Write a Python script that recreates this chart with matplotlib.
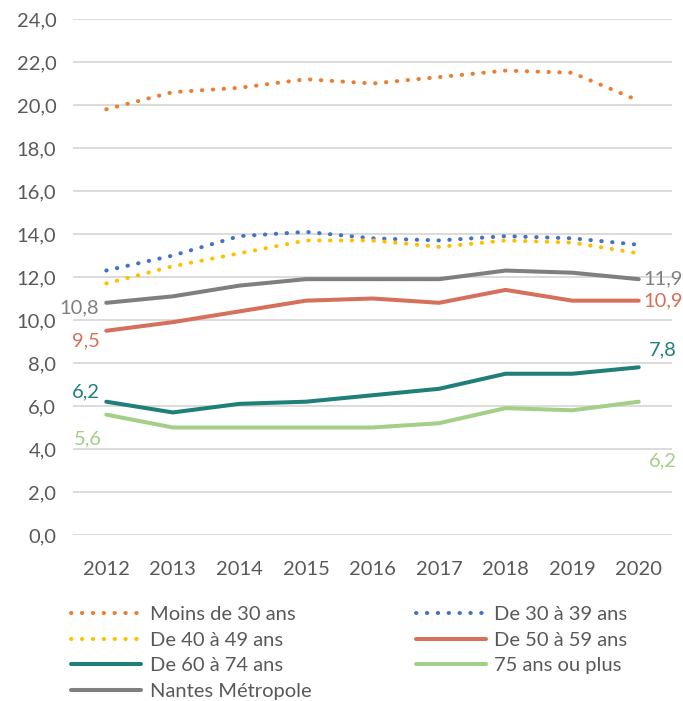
import matplotlib
matplotlib.use("Agg")
import matplotlib.pyplot as plt

years = ["2012", "2013", "2014", "2015", "2016", "2017", "2018", "2019", "2020"]
moins30 = [19.8, 20.6, 20.8, 21.2, 21.0, 21.3, 21.6, 21.5, 20.2]
de30_39 = [12.3, 13.0, 13.9, 14.1, 13.8, 13.7, 13.9, 13.8, 13.5]
de40_49 = [11.7, 12.5, 13.1, 13.7, 13.7, 13.4, 13.7, 13.6, 13.1]
de50_59 = [9.5, 9.9, 10.4, 10.9, 11.0, 10.8, 11.4, 10.9, 10.9]
de60_74 = [6.2, 5.7, 6.1, 6.2, 6.5, 6.8, 7.5, 7.5, 7.8]
plus75 = [5.6, 5.0, 5.0, 5.0, 5.0, 5.2, 5.9, 5.8, 6.2]
nantes = [10.8, 11.1, 11.6, 11.9, 11.9, 11.9, 12.3, 12.2, 11.9]
yticks = [0, 2, 4, 6, 8, 10, 12, 14, 16, 18, 20, 22, 24]

FONT = ["Lato", "DejaVu Sans"]
plt.rcParams['font.family'] = FONT
TXT = "#595959"

fig = plt.figure(figsize=(6.83, 7.01), dpi=100)
ax = fig.add_axes([73/683, 1-535/701, (672-73)/683, (535-19)/701])

x = list(range(len(years)))
dot = (0, (0.1, 2.6))
series = [
    ("Moins de 30 ans", moins30, "#ED7D31", dot),
    ("De 30 à 39 ans", de30_39, "#4472C4", dot),
    ("De 40 à 49 ans", de40_49, "#FFC000", dot),
    ("De 50 à 59 ans", de50_59, "#D6705A", "-"),
    ("De 60 à 74 ans", de60_74, "#1F7F79", "-"),
    ("75 ans ou plus", plus75, "#A3CF86", "-"),
    ("Nantes Métropole", nantes, "#7F7F7F", "-"),
]
handles = {}
for name, vals, col, ls in series:
    ln, = ax.plot(x, vals, color=col, lw=2.9, linestyle=ls,
                  dash_capstyle="round", solid_capstyle="round", zorder=3)
    handles[name] = ln

ax.set_xlim(-0.5, 8.5)
ax.set_ylim(0, 24)
ax.set_yticks(yticks)
ax.set_yticklabels([f"{v:.1f}".replace(".", ",") for v in yticks])
ax.set_xticks(x)
ax.set_xticklabels(years)
ax.tick_params(axis="both", length=0, labelsize=14.5, labelcolor=TXT)
ax.tick_params(axis="y", pad=12)
ax.tick_params(axis="x", pad=19)
for s in ax.spines.values():
    s.set_visible(False)
ax.grid(axis="y", color="#D9D9D9", lw=1.3, zorder=0)
ax.set_axisbelow(True)

def fmt(v):
    return f"{v:.1f}".replace(".", ",")

def lab(idx, vals, col, dx, dy, ha):
    ax.annotate(fmt(vals[idx]), (idx, vals[idx]), xytext=(dx, dy),
                textcoords="offset pixels", ha=ha, va="center",
                color=col, fontsize=14.5, annotation_clip=False)

lab(0, nantes, "#7F7F7F", -7, -5, "right")
lab(0, de50_59, "#D6705A", -6, -10, "right")
lab(0, de60_74, "#1F7F79", -6, 10, "right")
lab(0, plus75, "#A3CF86", -4, -24, "right")
lab(8, nantes, "#7F7F7F", 5, 0, "left")
lab(8, de50_59, "#D6705A", 5, 0, "left")
lab(8, de60_74, "#1F7F79", 10, 17, "left")
lab(8, plus75, "#A3CF86", 10, -59, "left")

order = ["Moins de 30 ans", "De 40 à 49 ans", "De 60 à 74 ans", "Nantes Métropole",
         "De 30 à 39 ans", "De 50 à 59 ans", "75 ans ou plus"]
leg = fig.legend([handles[n] for n in order], order, ncol=2,
                 loc="upper left", bbox_to_anchor=(71/683, 1-606/701),
                 frameon=False, fontsize=14.5, handlelength=3.5,
                 handletextpad=0.4, columnspacing=5.2, labelspacing=0.42,
                 borderaxespad=0, borderpad=0)
for t in leg.get_texts():
    t.set_color(TXT)

fig.savefig("out.png", dpi=100)
